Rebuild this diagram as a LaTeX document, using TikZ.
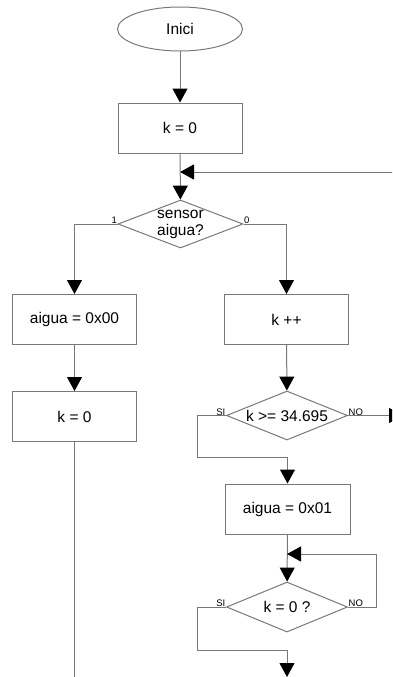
\documentclass[tikz,border=0pt]{standalone}
\usepackage{fontspec}
\setmainfont{Liberation Sans}
\usetikzlibrary{shapes.geometric,arrows.meta}
\definecolor{linegray}{RGB}{120,120,120}
\begin{document}
\begin{tikzpicture}[x=1pt,y=-1pt,
  font=\fontsize{15.5}{17}\selectfont,
  line/.style={draw=linegray, line width=1pt},
  arr/.style={line, -{Triangle[width=15pt,length=14pt,color=black,fill=black]}},
  term/.style={ellipse, draw=linegray, line width=1pt, minimum width=125pt, minimum height=44pt, inner sep=0pt},
  proc/.style={rectangle, draw=linegray, line width=1pt, minimum width=124pt, minimum height=50pt, inner sep=0pt},
  dec/.style={diamond, draw=linegray, line width=1pt, aspect=2.5, minimum width=121pt, minimum height=49pt, inner sep=0pt, align=center},
  tag/.style={font=\fontsize{9.5}{10}\selectfont, inner sep=0.5pt}]
  \clip (0,0) rectangle (392,677);

  % shapes
  \node[term] (inici) at (180,29) {Inici};
  \node[proc] (k0) at (180,128) {k = 0};
  \node[dec, minimum width=125pt, minimum height=48pt] (sens) at (180.5,224) {sensor\\aigua?};
  \node[proc] (a00) at (74.5,319.5) {aigua = 0x00};
  \node[proc] (kinc) at (286.5,319.5) {k ++};
  \node[proc] (k2) at (74.5,416.5) {k = 0};
  \node[dec] (cmp) at (287,415.5) {k >= 34.695};
  \node[proc, minimum width=125pt] (a01) at (287.5,509) {aigua = 0x01};
  \node[dec, minimum height=50pt] (kz) at (287,607) {k = 0 ?};

  % helper points
  \coordinate (fbin) at (410,172);
  \coordinate (j1) at (180,172);
  \coordinate (lend) at (74.5,690);
  \coordinate (noout) at (403,415.5);
  \coordinate (s1) at (197,457);
  \coordinate (j2) at (287,554);
  \coordinate (loopc) at (376,554);
  \coordinate (s2) at (197,650);
  \coordinate (kend) at (287,677);

  % connectors
  \draw[arr] (inici) -- (k0);
  \draw[arr] (fbin) -- (j1);
  \draw[arr] (k0) -- (sens);
  \draw[arr] (sens.west) -| (a00);
  \draw[arr] (sens.east) -| (kinc);
  \draw[arr] (a00) -- (k2);
  \draw[line] (k2) -- (lend);
  \draw[arr] (kinc) -- (cmp);
  \draw[arr] (cmp.east) -- (noout);
  \draw[arr] (cmp.west) -| (s1) -| (a01);
  \draw[arr] (a01) -- (kz);
  \draw[arr] (kz.east) -| (loopc) -- (j2);
  \draw[arr] (kz.west) -| (s2) -| (kend);

  % branch labels
  \node[tag, anchor=south east] (l1) at ([yshift=-0.5pt]sens.west) {1};
  \node[tag, anchor=south west] (l0) at ([yshift=-0.5pt]sens.east) {0};
  \node[tag, anchor=south east] (cs) at ([yshift=-0.5pt]cmp.west) {SI};
  \node[tag, anchor=south west] (cn) at ([yshift=-0.5pt]cmp.east) {NO};
  \node[tag, anchor=south east] (zs) at ([yshift=-0.5pt]kz.west) {SI};
  \node[tag, anchor=south west] (zn) at ([yshift=-0.5pt]kz.east) {NO};
\end{tikzpicture}
\end{document}
